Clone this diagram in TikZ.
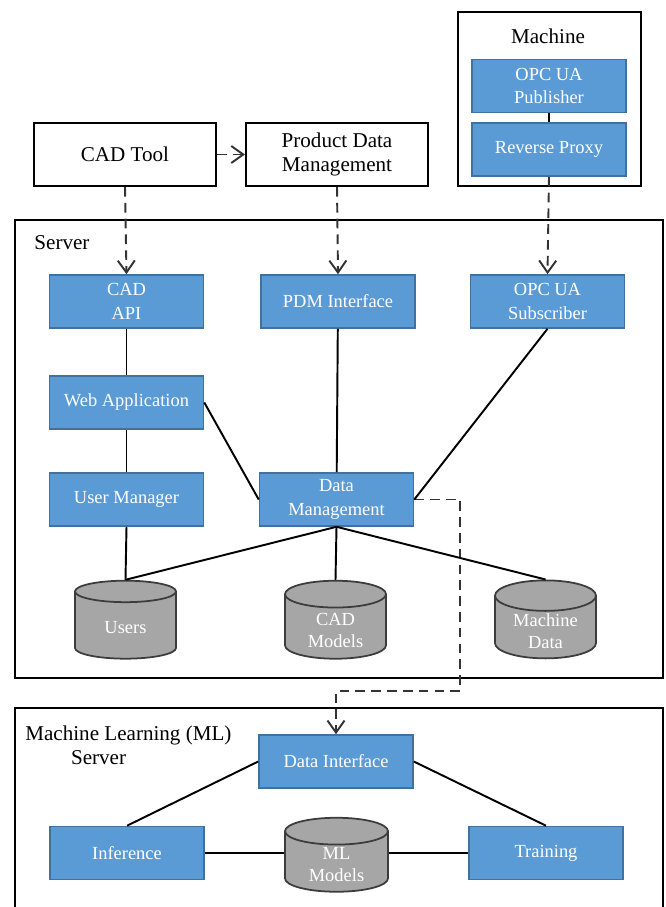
\documentclass[tikz,border=0pt]{standalone}
\usepackage{fontspec}
\setmainfont{Liberation Serif}
\usepackage{xcolor}
\usepackage{tikz}
\usetikzlibrary{shapes.geometric, arrows.meta, positioning, calc}
\definecolor{compcolor}{RGB}{91, 155, 213}
\definecolor{compborder}{RGB}{65, 113, 156}
\definecolor{storecolor}{RGB}{166, 166, 166}
\definecolor{storeborder}{RGB}{60, 60, 60}

\begin{document}
\begin{tikzpicture}[
    group/.style={draw, line width=1.2pt, inner sep=0pt},
    extbox/.style={draw, line width=1.2pt, minimum width=3.64cm, minimum height=1.26cm, align=center, font=\fontsize{12}{14}\selectfont},
    comp/.style={draw=compborder, fill=compcolor, line width=0.9pt, minimum width=3.08cm, minimum height=1.06cm, align=center, text=white, font=\fontsize{10.5}{13.5}\selectfont},
    store/.style={cylinder, shape border rotate=90, aspect=0.4, draw=storeborder, fill=storecolor, line width=1pt, inner ysep=0.5pt, minimum width=2.02cm, minimum height=1.56cm, align=center, text=white, font=\fontsize{10.5}{12.5}\selectfont},
    link/.style={line width=1.1pt},
    flow/.style={dash pattern=on 5.5pt off 3.5pt, line width=1.1pt, black!80, -{Straight Barb[length=2.4mm, width=3.4mm]}},
]
    \useasboundingbox (0,0) rectangle (13.3,-18.14);

    % Groups
    \node[group, minimum width=3.66cm, minimum height=3.48cm] (machine) at (10.99, -1.98) {};
    \node[font=\fontsize{12}{14}\selectfont] (machinelabel) at (10.96, -0.72) {Machine};

    \node[group, minimum width=12.96cm, minimum height=9.16cm] (server) at (6.78, -8.98) {};
    \node[font=\fontsize{12}{14}\selectfont] (serverlabel) at (1.24, -4.86) {Server};

    \node[group, minimum width=12.96cm, minimum height=4.6cm] (mlserver) at (6.78, -16.46) {};
    \node[font=\fontsize{12}{13.6}\selectfont, align=left, anchor=west, inner sep=0pt] (mllabel) at (0.5, -14.9) {Machine Learning (ML)\\\hspace*{26pt}Server};

    % External tools
    \node[extbox] (cadtool) at (2.5, -3.09) {CAD Tool};
    \node[extbox] (pdm) at (6.74, -3.09) {Product Data\\Management};

    % Machine components
    \node[comp] (publisher) at (10.98, -1.72) {OPC UA\\Publisher};
    \node[comp] (proxy) at (10.98, -2.99) {Reverse Proxy};

    % Server components
    \node[comp] (cadapi) at (2.53, -6.03) {CAD\\API};
    \node[comp] (pdmif) at (6.76, -6.03) {PDM Interface};
    \node[comp] (opcsub) at (10.95, -6.03) {OPC UA\\Subscriber};
    \node[comp] (webapp) at (2.53, -8.05) {Web Application};
    \node[comp] (usermgr) at (2.53, -9.99) {User Manager};
    \node[comp] (datamgmt) at (6.73, -9.99) {Data\\Management};

    % Server storage
    \node[store] (users) at (2.51, -12.56) {Users};
    \node[store] (cadmodels) at (6.71, -12.6) {CAD\\Models};
    \node[store] (machdata) at (10.91, -12.62) {Machine\\Data};

    % ML components
    \node[comp] (dataif) at (6.72, -15.23) {Data Interface};
    \node[comp] (inference) at (2.54, -17.06) {Inference};
    \node[comp] (training) at (10.92, -17.06) {Training};
    \node[store, minimum height=1.48cm, minimum width=2.06cm] (mlmodels) at (6.73, -17.3) {ML\\Models};

    % Data flows
    \draw[flow] (cadtool) -- (pdm);
    \draw[flow] (cadtool.south) -- (cadapi.north);
    \draw[flow] (pdm.south) -- (pdmif.north);
    \draw[flow] (proxy.south) -- (opcsub.north);
    \coordinate (bend) at (9.2, -13.82);
    \draw[flow] (datamgmt.east) -| (bend) -| (dataif.north);

    % Links
    \draw[link] (publisher) -- (proxy);
    \draw[link] (cadapi) -- (webapp);
    \draw[link] (webapp) -- (usermgr);
    \draw[link] (usermgr.south) -- (users.north);
    \draw[link] (webapp.east) -- (datamgmt.west);
    \draw[link] (pdmif) -- (datamgmt);
    \draw[link] (opcsub.south) -- (datamgmt.east);
    \draw[link] (datamgmt.south) -- (users.north);
    \draw[link] (datamgmt.south) -- (cadmodels.north);
    \draw[link] (datamgmt.south) -- (machdata.north);
    \draw[link] (dataif.west) -- (inference.north);
    \draw[link] (dataif.east) -- (training.north);
    \draw[link] (inference.east) -- (inference.east -| mlmodels.west);
    \draw[link] (training.west) -- (training.west -| mlmodels.east);

\end{tikzpicture}
\end{document}
